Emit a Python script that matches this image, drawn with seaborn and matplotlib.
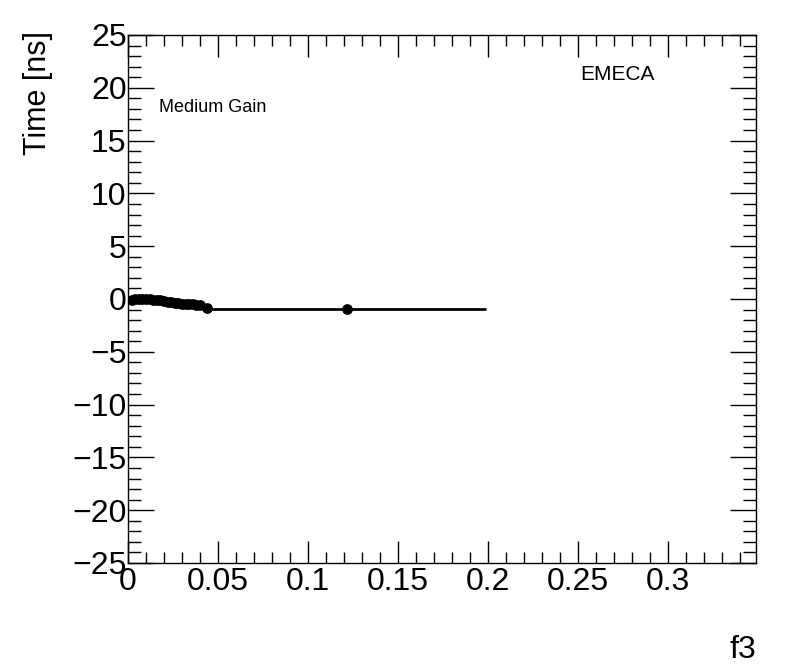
import numpy as np
import pandas as pd
import matplotlib
matplotlib.use("Agg")
import matplotlib.pyplot as plt
import matplotlib.ticker as ticker
import seaborn as sns

# --- data ---
f3_vals = [0.002, 0.004, 0.006, 0.008, 0.010, 0.012, 0.014, 0.016, 0.018, 0.020,
           0.022, 0.024, 0.026, 0.028, 0.030, 0.032, 0.034, 0.036, 0.038, 0.040,
           0.044, 0.1217]
time_vals = [-0.05, -0.02, 0.0, 0.0, 0.0, -0.02, -0.05, -0.08, -0.12, -0.18,
             -0.25, -0.32, -0.38, -0.42, -0.45, -0.48, -0.50, -0.52, -0.55, -0.60,
             -0.85, -0.95]
f3_err = [0.001] * 21 + [0.0772]

sns.set_theme(style="white")
plt.rcParams['font.family'] = ['Liberation Sans', 'DejaVu Sans']
plt.rcParams['text.color'] = 'black'
plt.rcParams['xtick.color'] = 'black'
plt.rcParams['ytick.color'] = 'black'
plt.rcParams['xtick.labelcolor'] = 'black'
plt.rcParams['ytick.labelcolor'] = 'black'

df = pd.DataFrame({'f3': f3_vals, 'time': time_vals, 'err': f3_err})

fig = plt.figure(figsize=(7.96, 6.72), dpi=100)
ax = fig.add_axes([128 / 796, 1 - 563 / 672, (756 - 128) / 796, (563 - 35) / 672])

ax.errorbar(df['f3'], df['time'], xerr=df['err'], fmt='none', ecolor='black',
            elinewidth=2, capsize=0, zorder=2)
sns.scatterplot(data=df, x='f3', y='time', ax=ax, color='black', s=60,
                edgecolor='black', linewidth=0, zorder=3, legend=False)

ax.set_xlim(0, 0.349)
ax.set_ylim(-25, 25)
ax.set_xlabel('')
ax.set_ylabel('')

ax.xaxis.set_major_locator(ticker.MultipleLocator(0.05))
ax.xaxis.set_minor_locator(ticker.MultipleLocator(0.01))
ax.yaxis.set_major_locator(ticker.MultipleLocator(5))
ax.yaxis.set_minor_locator(ticker.MultipleLocator(1))
ax.xaxis.set_major_formatter(ticker.FuncFormatter(lambda v, p: '0' if abs(v) < 1e-9 else f'{v:g}'))
ax.yaxis.set_major_formatter(ticker.FuncFormatter(lambda v, p: f'{int(round(v))}'.replace('-', '\u2212')))

for sp in ax.spines.values():
    sp.set_color('black')
    sp.set_linewidth(1)

ax.tick_params(axis='x', which='major', direction='in', length=16, width=1,
               top=True, bottom=True, labelsize=23, pad=3)
ax.tick_params(axis='x', which='minor', direction='in', length=8, width=1,
               top=True, bottom=True)
ax.tick_params(axis='y', which='major', direction='in', length=19, width=1,
               left=True, right=True, labelsize=23, pad=1)
ax.tick_params(axis='y', which='minor', direction='in', length=9.5, width=1,
               left=True, right=True)

fig.text(756 / 796, 1 - 650 / 672, 'f3', ha='right', va='center', fontsize=23)
fig.text(38 / 796, 1 - 93 / 672, 'Time [ns]', ha='center', va='center',
         rotation=90, fontsize=22)
ax.text(0.72, 0.925, 'EMECA', transform=ax.transAxes, fontsize=15, ha='left', va='center')
ax.text(0.05, 0.862, 'Medium Gain', transform=ax.transAxes, fontsize=13, ha='left', va='center')

fig.savefig('out.png', dpi=100)
